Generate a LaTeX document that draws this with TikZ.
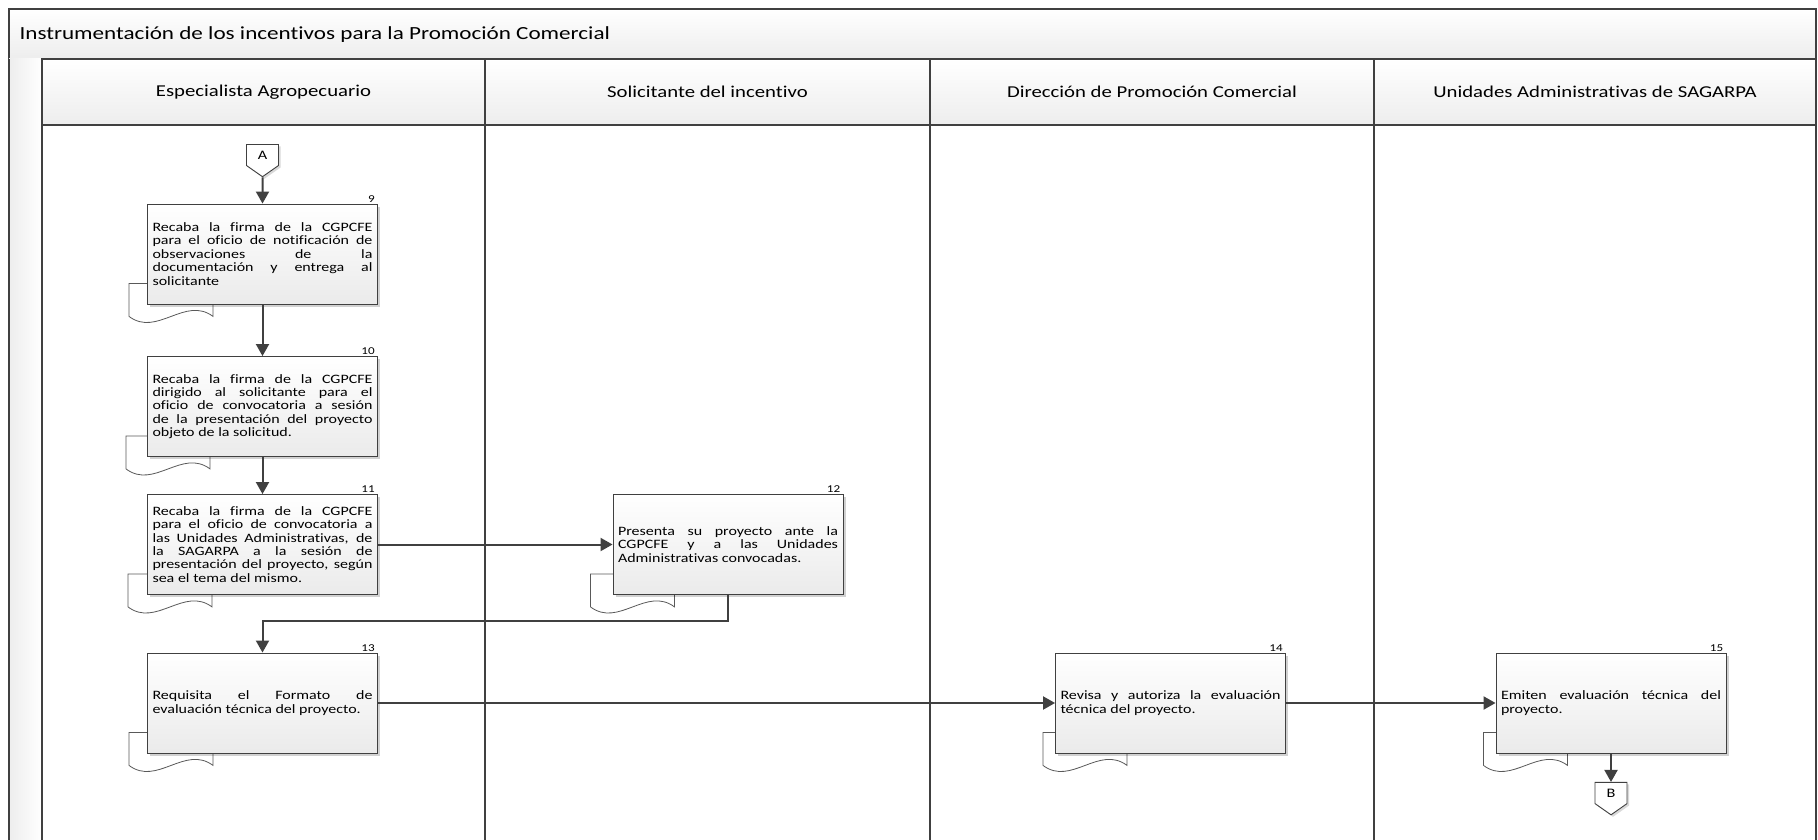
\documentclass[tikz,border=0pt]{standalone}
\usepackage{fontspec}
\setmainfont{Carlito}[FakeStretch=1.25, Ligatures=NoCommon]
\usetikzlibrary{arrows.meta, calc, shadows, shapes.symbols, backgrounds}
\definecolor{lineclr}{HTML}{404040}
\definecolor{bandclr}{HTML}{EDEDED}
\hyphenpenalty=10000
\exhyphenpenalty=10000
\newcommand{\docbehind}[2]{%
  \draw[docshape] ($(#1.south west)+(#2,-21)$) -- ++(84,0) -- ++(0,33)
    .. controls +(-28,-21) and +(28,21) .. ++(-84,0) -- cycle;}

\begin{document}
\begin{tikzpicture}[x=1pt, y=-1pt,
    band/.style={draw=lineclr, line width=1.2pt, top color=white, bottom color=bandclr},
    lane/.style={draw=lineclr, line width=1.2pt},
    lanehead/.style={font=\fontsize{16.6}{18}\selectfont},
    task/.style={draw=lineclr, line width=0.9pt, top color=white, bottom color=gray!16,
        minimum width=230pt, minimum height=100pt, text width=220pt, inner xsep=5pt,
        align=justify, font=\fontsize{12.8}{13.4}\selectfont,
        drop shadow={shadow xshift=2.5pt, shadow yshift=-2.5pt, fill=black, opacity=.18}},
    numlbl/.style={font=\fontsize{10.5}{11}\selectfont, inner sep=1pt, anchor=south east, xshift=-2pt},
    offpage/.style={signal, signal to=south, signal pointer angle=110, draw=lineclr,
        line width=0.9pt, fill=white, minimum width=32pt, minimum height=25pt, inner sep=1pt,
        font=\fontsize{13}{13}\selectfont,
        drop shadow={shadow xshift=2pt, shadow yshift=-2pt, fill=black, opacity=.15}},
    docshape/.style={draw=gray!70!black, line width=0.8pt, fill=white},
    flow/.style={draw=lineclr, line width=2pt, -{Triangle[length=12pt,width=13pt]}}
]
    \useasboundingbox (0,0) rectangle (1818,840);

    % pool and lanes
    \draw[band] (9,9) rectangle (1816,59);
    \node[anchor=west, font=\fontsize{18.5}{20}\selectfont] (title) at (16,35)
        {Instrumentación de los incentivos para la Promoción Comercial};
    \path[left color=gray!14, right color=white] (9,59) rectangle (42,845);
    \draw[lane] (9,845) -- (9,59);
    \draw[band] (42,59) rectangle (485,125);
    \draw[band] (485,59) rectangle (930,125);
    \draw[band] (930,59) rectangle (1374,125);
    \draw[band] (1374,59) rectangle (1816,125);
    \node[lanehead] (lane1) at (263.5,92) {Especialista Agropecuario};
    \node[lanehead] (lane2) at (707.5,92) {Solicitante del incentivo};
    \node[lanehead] (lane3) at (1152,92) {Dirección de Promoción Comercial};
    \node[lanehead] (lane4) at (1595,92) {Unidades Administrativas de SAGARPA};
    \draw[lane] (42,125) -- (42,845);
    \draw[lane] (485,125) -- (485,845);
    \draw[lane] (930,125) -- (930,845);
    \draw[lane] (1374,125) -- (1374,845);
    \draw[lane] (1816,125) -- (1816,845);

    % activities
    \node[offpage] (ca) at (262.5,155) {A};
    \node[task, label={[numlbl]north east:9}] (b9) at (262.5,254)
        {Recaba la firma de la CGPCFE\linebreak para el oficio de notificación de\linebreak
         observaciones de la\linebreak documentación y entrega al\linebreak solicitante};
    \node[task, label={[numlbl]north east:10}] (b10) at (262.5,406.5)
        {Recaba la firma de la CGPCFE\linebreak dirigido al solicitante para el\linebreak
         oficio de convocatoria a sesión\linebreak de la presentación del proyecto\linebreak
         objeto de la solicitud.};
    \node[task, label={[numlbl]north east:11}] (b11) at (262.5,544.5)
        {Recaba la firma de la CGPCFE\linebreak para el oficio de convocatoria a\linebreak
         las Unidades Administrativas, de\linebreak la SAGARPA a la sesión de\linebreak
         presentación del proyecto, según\linebreak sea el tema del mismo.};
    \node[task, label={[numlbl]north east:12}] (b12) at (728,544.5)
        {Presenta su proyecto ante la\linebreak CGPCFE y a las Unidades\linebreak
         Administrativas convocadas.};
    \node[task, label={[numlbl]north east:13}] (b13) at (262.5,703)
        {Requisita el Formato de\linebreak evaluación técnica del proyecto.};
    \node[task, label={[numlbl]north east:14}] (b14) at (1170.5,703)
        {Revisa y autoriza la evaluación\linebreak técnica del proyecto.};
    \node[task, label={[numlbl]north east:15}] (b15) at (1611,703)
        {Emiten evaluación técnica del\linebreak proyecto.};
    \node[offpage] (cb) at (1611,793) {B};

    % documents behind the activities
    \begin{scope}[on background layer]
        \docbehind{b9}{-18}
        \docbehind{b10}{-21}
        \docbehind{b11}{-19}
        \docbehind{b12}{-22}
        \docbehind{b13}{-18}
        \docbehind{b14}{-12}
        \docbehind{b15}{-12}
    \end{scope}

    % flow
    \draw[flow] (ca) -- (b9);
    \draw[flow] (b9) -- (b10);
    \draw[flow] (b10) -- (b11);
    \draw[flow] (b11) -- (b12);
    \draw[flow] (b12.south) -- ++(0,26) -| (b13.north);
    \draw[flow] (b13) -- (b14);
    \draw[flow] (b14) -- (b15);
    \draw[flow] (b15) -- (cb);
\end{tikzpicture}
\end{document}
